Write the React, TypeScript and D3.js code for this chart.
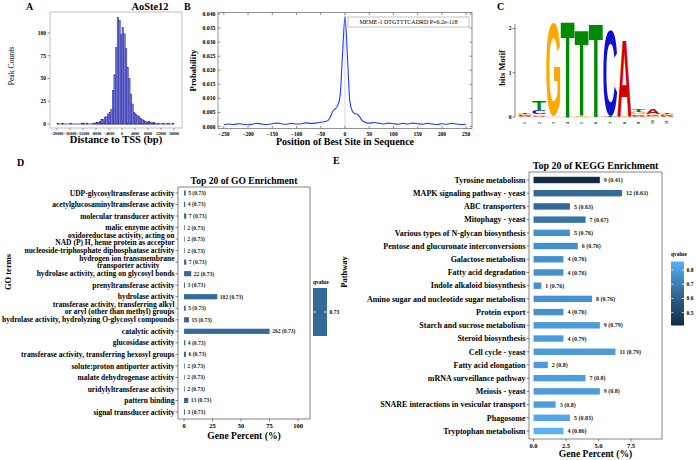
import React, { useEffect, useRef } from 'react';
import * as d3 from 'd3';

const SERIF = "'Liberation Serif','Times New Roman',Times,serif";
const SANS = "'Liberation Sans',Arial,Helvetica,sans-serif";
const NB = '\u00A0';

// ---------- Panel A: distance to TSS histogram ----------
const tssBinWidth = 500;
const tssBinStart = [
  -20000, -19500, -19000, -18500, -18000, -17500, -17000, -16500, -16000, -15500,
  -15000, -14500, -14000, -13500, -13000, -12500, -12000, -11500, -11000, -10500,
  -10000, -9500, -9000, -8500, -8000, -7500, -7000, -6500, -6000, -5500,
  -5000, -4500, -4000, -3500, -3000, -2500, -2000, -1500, -1000, -500,
  0, 500, 1000, 1500, 2000, 2500, 3000, 3500, 4000, 4500,
  5000, 5500, 6000, 6500, 7000, 7500, 8000, 8500, 9000, 9500,
  10000, 10500, 11000, 11500, 12000, 12500, 13000, 13500, 14000, 14500,
  15000, 15500,
];
const tssCounts = [
  1, 0, 0, 1, 0, 0, 0, 0, 1, 0,
  0, 0, 0, 0, 0, 1, 1, 0, 1, 0,
  0, 0, 1, 1, 2, 2, 3, 5, 5, 7,
  8, 11, 13, 16, 37, 54, 84, 117, 114, 98,
  106, 99, 83, 62, 50, 33, 22, 13, 11, 9,
  8, 6, 5, 4, 3, 2, 3, 2, 1, 2,
  1, 0, 1, 0, 0, 1, 0, 0, 1, 0,
  0, 1,
];
const tssTicks = [-20000, -16000, -12000, -8000, -4000, 0, 4000, 8000, 12000, 16000];
const peakTicks = [0, 25, 50, 75, 100];

// ---------- Panel B: site distribution ----------
const sitePos = [
  -250, -240, -230, -220, -210, -200, -190, -180, -170, -160, -150, -140, -130, -120, -110,
  -100, -90, -80, -70, -60, -50, -40, -35, -30, -25, -20, -15, -10, -5, 0,
  5, 10, 15, 20, 25, 30, 35, 40, 50, 60, 70, 80, 90, 100, 110, 120, 130, 140,
  150, 160, 170, 180, 190, 200, 210, 220, 230, 240, 250,
];
const siteProb = [
  0.0006, 0.0009, 0.0007, 0.001, 0.0008, 0.0006, 0.0009, 0.0011, 0.0008, 0.0007, 0.001, 0.0012, 0.0009, 0.0008, 0.0011,
  0.0009, 0.001, 0.0013, 0.0011, 0.0012, 0.0015, 0.0018, 0.0022, 0.0035, 0.0055, 0.0063, 0.0075, 0.011, 0.026, 0.039,
  0.025, 0.009, 0.0055, 0.0046, 0.0044, 0.0035, 0.0022, 0.0016, 0.0012, 0.0014, 0.0011, 0.0009, 0.0012, 0.001, 0.0008, 0.0011, 0.0009, 0.0012,
  0.001, 0.0008, 0.0011, 0.0009, 0.0007, 0.001, 0.0008, 0.0011, 0.0009, 0.0007, 0.0008,
];
const siteXTicks = [-250, -200, -150, -100, -50, 0, 50, 100, 150, 200, 250];
const siteYTicks = [0, 0.005, 0.01, 0.015, 0.02, 0.025, 0.03, 0.035, 0.04];
const memeLegend = 'MEME-1 DTGTTTCADRD P=6.2e-118';

// ---------- Panel C: motif logo ----------
const motifPos = [1, 2, 3, 4, 5, 6, 7, 8, 9, 10, 11];
const bitsA = [0.02, 0.02, 0.01, 0, 0, 0, 0, 1.73, 0.03, 0.11, 0.02];
const bitsC = [0.02, 0.1, 0, 0, 0, 0, 1.93, 0, 0.03, 0.04, 0.02];
const bitsG = [0.02, 0.04, 2.12, 0, 0.02, 0, 0, 0.02, 0.05, 0.03, 0.03];
const bitsT = [0.03, 0.19, 0.01, 2.17, 1.93, 2.12, 0.02, 0, 0.05, 0, 0.03];
const bitsTicks = [0, 1, 2];
const baseColor: Record<string, string> = { A: '#d40000', C: '#1010d0', G: '#ffa800', T: '#008a00' };

// ---------- Panel D: GO enrichment ----------
const goTerms = [
  'UDP-glycosyltransferase activity',
  'acetylglucosaminyltransferase activity',
  'molecular transducer activity',
  'malic enzyme activity',
  'oxidoreductase activity, acting on\nNAD (P) H, heme protein as acceptor',
  'nucleoside-triphosphate diphosphatase activity',
  'hydrogen ion transmembrane\ntransporter activity' + NB.repeat(8),
  'hydrolase activity, acting on glycosyl bonds',
  'prenyltransferase activity',
  'hydrolase activity',
  'transferase activity, transferring alkyl\nor aryl (other than methyl) groups',
  'hydrolase activity, hydrolyzing O-glycosyl compounds',
  'catalytic activity',
  'glucosidase activity',
  'transferase activity, transferring hexosyl groups',
  'solute:proton antiporter activity',
  'malate dehydrogenase activity',
  'uridylyltransferase activity',
  'pattern binding',
  'signal transducer activity',
];
const goCounts = [5, 4, 7, 2, 2, 2, 7, 22, 3, 102, 5, 15, 262, 4, 6, 2, 2, 2, 13, 3];
const goPercent = [1.4, 1.1, 2.0, 0.6, 0.6, 0.6, 2.0, 6.3, 0.9, 29.2, 1.4, 4.3, 75.1, 1.1, 1.7, 0.6, 0.6, 0.6, 3.7, 0.9];
const goQvalue = [0.73, 0.73, 0.73, 0.73, 0.73, 0.73, 0.73, 0.73, 0.73, 0.73, 0.73, 0.73, 0.73, 0.73, 0.73, 0.73, 0.73, 0.73, 0.73, 0.73];
const goXTicks = [0, 25, 50, 75, 100];

// ---------- Panel E: KEGG enrichment ----------
const keggTerms = [
  'Tyrosine metabolism',
  'MAPK signaling pathway - yeast',
  'ABC transporters',
  'Mitophagy - yeast',
  'Various types of N-glycan biosynthesis',
  'Pentose and glucuronate interconversions',
  'Galactose metabolism',
  'Fatty acid degradation',
  'Indole alkaloid biosynthesis',
  'Amino sugar and nucleotide sugar metabolism',
  'Protein export',
  'Starch and sucrose metabolism',
  'Steroid biosynthesis',
  'Cell cycle - yeast',
  'Fatty acid elongation',
  'mRNA surveillance pathway',
  'Meiosis - yeast',
  'SNARE interactions in vesicular transport',
  'Phagosome',
  'Tryptophan metabolism',
];
const keggCounts = [9, 12, 5, 7, 5, 6, 4, 4, 1, 8, 4, 9, 4, 11, 2, 7, 9, 3, 5, 4];
const keggPercent = [5.1, 6.8, 2.8, 4.0, 2.8, 3.4, 2.3, 2.3, 0.6, 4.5, 2.3, 5.1, 2.3, 6.3, 1.1, 4.0, 5.1, 1.7, 2.8, 2.3];
const keggQvalue = [0.41, 0.63, 0.63, 0.67, 0.76, 0.76, 0.76, 0.76, 0.76, 0.76, 0.76, 0.79, 0.79, 0.79, 0.8, 0.8, 0.8, 0.8, 0.83, 0.86];
const keggXTicks = [0, 2.5, 5, 7.5];
const keggLegendTicks = [0.5, 0.6, 0.7, 0.8];

const LOW = '#132B43';
const HIGH = '#56B1F7';

type Sel = d3.Selection<any, unknown, null, undefined>;
type TOpts = { size: number; weight?: string; anchor?: string; family?: string; fill?: string; rotate?: number; dy?: string };

function addText(g: Sel, x: number, y: number, s: string, o: TOpts) {
  const t = g
    .append('text')
    .attr('x', 0)
    .attr('y', 0)
    .attr('transform', `translate(${x},${y})${o.rotate ? ` rotate(${o.rotate})` : ''}`)
    .attr('font-family', o.family ?? SERIF)
    .attr('font-size', o.size)
    .attr('font-weight', o.weight ?? 'bold')
    .attr('text-anchor', o.anchor ?? 'start')
    .attr('fill', o.fill ?? '#000')
    .style('white-space', 'pre')
    .text(s);
  if (o.dy) t.attr('dy', o.dy);
  return t;
}

function line(g: Sel, x1: number, y1: number, x2: number, y2: number, stroke: string, w: number) {
  g.append('line').attr('x1', x1).attr('y1', y1).attr('x2', x2).attr('y2', y2).attr('stroke', stroke).attr('stroke-width', w);
}

function drawA(svg: Sel) {
  const g = svg.append('g');
  const L = 50, R = 182, T = 12, B = 128;
  const x = d3.scaleLinear().domain([-22150, 18460]).range([L, R]);
  const y = d3.scaleLinear().domain([-4.4, 123]).range([B, T]);
  g.append('rect').attr('x', L).attr('y', T).attr('width', R - L).attr('height', B - T)
    .attr('fill', 'none').attr('stroke', '#b0b0b0').attr('stroke-width', 0.8);
  const last = tssBinStart[tssBinStart.length - 1] + tssBinWidth;
  line(g, x(tssBinStart[0]), y(0), x(last), y(0), '#2a2a9a', 0.8);
  const bins = tssCounts.map((c, i) => ({ c, s: tssBinStart[i] })).filter((d) => d.c > 0);
  g.selectAll('rect.bar').data(bins).join('rect')
    .attr('x', (d) => x(d.s))
    .attr('width', (d) => x(d.s + tssBinWidth) - x(d.s))
    .attr('y', (d) => y(d.c))
    .attr('height', (d) => y(0) - y(d.c))
    .attr('fill', '#6f73da')
    .attr('stroke', '#22228c')
    .attr('stroke-width', 0.4);
  peakTicks.forEach((t) => {
    line(g, L - 2.5, y(t), L, y(t), '#555', 0.6);
    addText(g, L - 4, y(t), String(t), { size: 5.5, anchor: 'end', dy: '0.35em' });
  });
  const fmt = d3.format('d');
  tssTicks.forEach((t) => {
    line(g, x(t), B, x(t), B + 2, '#555', 0.6);
    addText(g, x(t), B + 5.5, fmt(t), { size: 4.1, anchor: 'middle', dy: '0.35em' });
  });
  addText(g, 150, 10, 'AoSte12', { size: 10.4, anchor: 'middle' });
  addText(g, (L + R) / 2, 143, 'Distance to TSS (bp)', { size: 10.5, anchor: 'middle' });
  addText(g, 11, (T + B) / 2 - 4, 'Peak Counts', { size: 7.7, weight: 'normal', anchor: 'middle', rotate: -90, dy: '0.35em' });
  addText(g, 26, 10, 'A', { size: 10 });
}

function drawB(svg: Sel) {
  const g = svg.append('g');
  const L = 218, R = 472, T = 12.5, B = 128.5;
  const x = d3.scaleLinear().domain([-262, 262]).range([L, R]);
  const y = d3.scaleLinear().domain([0, 0.04]).range([126.5, 14]);
  g.append('rect').attr('x', L).attr('y', T).attr('width', R - L).attr('height', B - T)
    .attr('fill', 'none').attr('stroke', '#666').attr('stroke-width', 0.7);
  line(g, x(0), T, x(0), B, '#bdbdbd', 0.6);
  const path = d3.line<number>().x((d, i) => x(sitePos[i])).y((d) => y(d)).curve(d3.curveMonotoneX);
  g.append('path').attr('d', path(siteProb) as string).attr('fill', 'none').attr('stroke', '#1d3cff').attr('stroke-width', 1.1);
  const fy = d3.format('.3f');
  siteYTicks.forEach((t) => {
    line(g, L, y(t), L + 2.5, y(t), '#444', 0.6);
    line(g, R, y(t), R - 2.5, y(t), '#444', 0.6);
    addText(g, L - 2.5, y(t), fy(t), { size: 5.8, anchor: 'end', dy: '0.35em' });
  });
  const fx = d3.format('d');
  siteXTicks.forEach((t) => {
    line(g, x(t), B, x(t), B - 2.5, '#444', 0.6);
    line(g, x(t), T, x(t), T + 2.5, '#444', 0.6);
    addText(g, x(t), B + 5.5, fx(t), { size: 5.6, anchor: 'middle', dy: '0.35em' });
  });
  g.append('rect').attr('x', 348).attr('y', 17).attr('width', 121).attr('height', 10)
    .attr('fill', '#fff').attr('stroke', '#888').attr('stroke-width', 0.5);
  addText(g, 408.5, 22, memeLegend, { size: 6, weight: 'normal', anchor: 'middle', dy: '0.35em' });
  addText(g, 193, (T + B) / 2, 'Probability', { size: 8.7, anchor: 'middle', rotate: -90, dy: '0.35em' });
  addText(g, (L + R) / 2, 145, 'Position of Best Site in Sequence', { size: 10, anchor: 'middle' });
  addText(g, 184, 10, 'B', { size: 10 });
}

function drawC(svg: Sel) {
  const g = svg.append('g');
  const axisX = 515;
  const y = d3.scaleLinear().domain([0, 2]).range([117, 28.5]);
  const x = d3.scaleBand<number>().domain(motifPos).range([518, 674]).paddingInner(0.02);
  line(g, axisX, y(0), axisX, 24, '#333', 0.6);
  bitsTicks.forEach((t) => {
    line(g, axisX - 2.5, y(t), axisX, y(t), '#333', 0.6);
    addText(g, axisX - 3.5, y(t), String(t), { size: 5.5, anchor: 'end', dy: '0.35em' });
  });
  line(g, 518, y(0), 674, y(0), '#999', 0.4);
  const canvas = document.createElement('canvas');
  const ctx = canvas.getContext('2d')!;
  ctx.font = `bold 100px ${SANS}`;
  const met: Record<string, { l: number; r: number; a: number; d: number }> = {};
  ['A', 'C', 'G', 'T'].forEach((ch) => {
    const m = ctx.measureText(ch);
    met[ch] = { l: m.actualBoundingBoxLeft, r: m.actualBoundingBoxRight, a: m.actualBoundingBoxAscent, d: m.actualBoundingBoxDescent };
  });
  motifPos.forEach((p, i) => {
    const stack = [
      { b: 'A', h: bitsA[i] },
      { b: 'C', h: bitsC[i] },
      { b: 'G', h: bitsG[i] },
      { b: 'T', h: bitsT[i] },
    ].filter((s) => s.h > 0).sort((a, b) => a.h - b.h);
    let acc = 0;
    const x0 = x(p)!;
    const w = x.bandwidth();
    stack.forEach((s) => {
      const yBottom = y(acc);
      const yTop = y(acc + s.h);
      const h = yBottom - yTop;
      acc += s.h;
      if (h < 0.25) return;
      const m = met[s.b];
      const iw = m.l + m.r;
      const ih = m.a + m.d;
      g.append('text')
        .text(s.b)
        .attr('font-family', SANS)
        .attr('font-weight', 'bold')
        .attr('font-size', 100)
        .attr('x', m.l)
        .attr('y', -m.d)
        .attr('transform', `translate(${x0},${yBottom}) scale(${w / iw},${h / ih})`)
        .attr('fill', baseColor[s.b]);
    });
    addText(g, x0 + w / 2, 124, String(p), { size: 4, rotate: -90, dy: '0.35em' });
  });
  addText(g, 502, 68, 'bits Motif', { size: 8.5, anchor: 'middle', rotate: -90, dy: '0.35em' });
  addText(g, 497, 10, 'C', { size: 10 });
}

function drawD(svg: Sel) {
  const g = svg.append('g');
  const L = 178, R = 310, T = 187, B = 419;
  const x = d3.scaleLinear().domain([-5.3, 110.5]).range([L, R]);
  const y = d3.scalePoint<string>().domain(goTerms).range([193, 412]);
  const color = d3.scaleLinear<string>().domain([0.72, 0.74]).range([LOW, HIGH]).interpolate(d3.interpolateLab);
  g.append('rect').attr('x', L).attr('y', T).attr('width', R - L).attr('height', B - T)
    .attr('fill', '#fff').attr('stroke', '#333').attr('stroke-width', 0.6);
  const bh = 5.2;
  goTerms.forEach((term, i) => {
    const cy = y(term)!;
    g.append('rect').attr('x', x(0)).attr('y', cy - bh / 2).attr('width', x(goPercent[i]) - x(0)).attr('height', bh)
      .attr('fill', color(goQvalue[i]));
    addText(g, x(goPercent[i]) + 2.5, cy, `${goCounts[i]} (${goQvalue[i]})`, { size: 5.6, anchor: 'start', dy: '0.35em', fill: '#222' });
    line(g, L - 2.5, cy, L, cy, '#333', 0.6);
    const lines = term.split('\n');
    lines.forEach((ln, k) => {
      addText(g, L - 3.5, cy + (k - (lines.length - 1) / 2) * 7, ln, { size: 7.5, anchor: 'end', dy: '0.35em' });
    });
  });
  goXTicks.forEach((t) => {
    line(g, x(t), B, x(t), B + 2.5, '#333', 0.6);
    addText(g, x(t), B + 7, String(t), { size: 6.5, anchor: 'middle', dy: '0.35em' });
  });
  addText(g, (L + R) / 2, 183.5, 'Top 20 of GO Enrichment', { size: 9.6, anchor: 'middle' });
  addText(g, (L + R) / 2, 439, 'Gene Percent (%)', { size: 9.6, anchor: 'middle' });
  addText(g, 8, 272, 'GO terms', { size: 8.5, anchor: 'middle', rotate: -90, dy: '0.35em' });
  addText(g, 17, 166, 'D', { size: 10 });
  // legend
  const lx = 313, lw = 14, ly0 = 288, ly1 = 336;
  addText(g, lx, 283.5, 'qvalue', { size: 5.5 });
  g.append('rect').attr('x', lx).attr('y', ly0).attr('width', lw).attr('height', ly1 - ly0).attr('fill', color(goQvalue[0]));
  const ym = (ly0 + ly1) / 2;
  line(g, lx, ym, lx + 3, ym, '#fff', 0.8);
  line(g, lx + lw - 3, ym, lx + lw, ym, '#fff', 0.8);
  addText(g, lx + lw + 2.5, ym, String(goQvalue[0]), { size: 5.5, dy: '0.35em' });
}

function drawE(svg: Sel) {
  const g = svg.append('g');
  const L = 529, R = 662, T = 172, B = 439;
  const x = d3.scaleLinear().domain([-0.35, 9.88]).range([L, R]);
  const y = d3.scalePoint<string>().domain(keggTerms).range([180, 431]);
  const qMin = d3.min(keggQvalue)!;
  const qMax = d3.max(keggQvalue)!;
  const color = d3.scaleLinear<string>().domain([qMin, qMax]).range([LOW, HIGH]).interpolate(d3.interpolateLab);
  g.append('rect').attr('x', L).attr('y', T).attr('width', R - L).attr('height', B - T)
    .attr('fill', '#fff').attr('stroke', '#555').attr('stroke-width', 0.7);
  const bh = 6.4;
  keggTerms.forEach((term, i) => {
    const cy = y(term)!;
    g.append('rect').attr('x', x(0)).attr('y', cy - bh / 2).attr('width', x(keggPercent[i]) - x(0)).attr('height', bh)
      .attr('fill', color(keggQvalue[i]));
    addText(g, x(keggPercent[i]) + 4, cy, `${keggCounts[i]} (${keggQvalue[i]})`, { size: 6, anchor: 'start', dy: '0.35em', fill: '#222' });
    line(g, L - 2.5, cy, L, cy, '#333', 0.6);
    addText(g, L - 3.5, cy, term, { size: 8, anchor: 'end', dy: '0.35em' });
  });
  keggXTicks.forEach((t) => {
    line(g, x(t), B, x(t), B + 2.5, '#333', 0.6);
    addText(g, x(t), B + 7, d3.format('.1f')(t), { size: 6.5, anchor: 'middle', dy: '0.35em' });
  });
  addText(g, (L + R) / 2, 169, 'Top 20 of KEGG Enrichment', { size: 10, anchor: 'middle' });
  addText(g, (L + R) / 2, 457, 'Gene Percent (%)', { size: 9.6, anchor: 'middle' });
  addText(g, 344, 272, 'Pathway', { size: 8.5, anchor: 'middle', rotate: -90, dy: '0.35em' });
  addText(g, 333, 164, 'E', { size: 10 });
  // legend
  const lx = 671, lw = 13;
  const ly = d3.scaleLinear().domain([qMin, qMax]).range([325.5, 261.5]);
  const defs = svg.append('defs');
  const grad = defs.append('linearGradient').attr('id', 'keggGrad').attr('x1', 0).attr('y1', 1).attr('x2', 0).attr('y2', 0);
  d3.range(0, 1.0001, 0.1).forEach((t) => {
    grad.append('stop').attr('offset', t).attr('stop-color', color(qMin + t * (qMax - qMin)));
  });
  addText(g, lx, 256, 'qvalue', { size: 5.5 });
  g.append('rect').attr('x', lx).attr('y', ly(qMax)).attr('width', lw).attr('height', ly(qMin) - ly(qMax)).attr('fill', 'url(#keggGrad)');
  keggLegendTicks.forEach((t) => {
    line(g, lx, ly(t), lx + 2.5, ly(t), '#fff', 0.7);
    line(g, lx + lw - 2.5, ly(t), lx + lw, ly(t), '#fff', 0.7);
    addText(g, lx + lw + 2.5, ly(t), String(t), { size: 5.5, dy: '0.35em' });
  });
}

export default function App() {
  const ref = useRef<SVGSVGElement>(null);
  useEffect(() => {
    if (!ref.current) return;
    const svg = d3.select(ref.current) as unknown as Sel;
    svg.selectAll('*').remove();
    svg.append('rect').attr('width', 696).attr('height', 460).attr('fill', '#fff');
    drawA(svg);
    drawB(svg);
    drawC(svg);
    drawD(svg);
    drawE(svg);
  }, []);
  return (
    <svg
      ref={ref}
      width={696}
      height={460}
      style={{ position: 'absolute', left: 0, top: 0, background: '#fff' }}
    />
  );
}
